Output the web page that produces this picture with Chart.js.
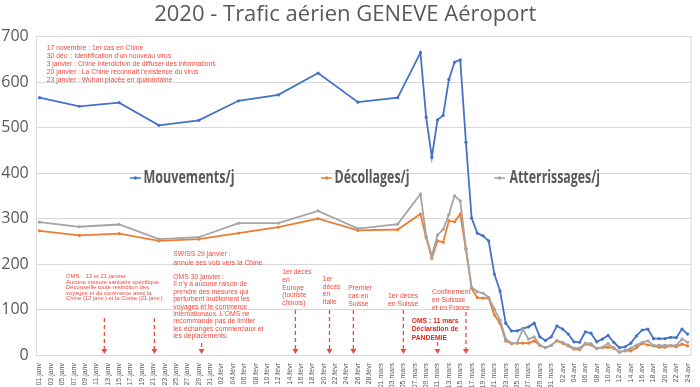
<!DOCTYPE html>
<html>
<head>
<meta charset="utf-8">
<script src="https://cdn.jsdelivr.net/npm/chart.js@4.4.1/dist/chart.umd.min.js"></script>
<style>
  html, body { margin: 0; padding: 0; background: #fff; }
  #wrap { width: 700px; height: 387px; }
</style>
</head>
<body>
<div id="wrap"><canvas id="chart"></canvas></div>
<script>
// one category per day, 01.janv -> 24.avr 2020
const months = [['janv', 31], ['févr', 29], ['mars', 31], ['avr', 24]];
const dayLabels = [];
months.forEach(([m, n]) => {
  for (let d = 1; d <= n; d++) dayLabels.push(String(d).padStart(2, '0') + '.' + m);
});

// weekly values until early March
const weeklyDates = ['01.janv', '08.janv', '15.janv', '22.janv', '29.janv', '05.févr', '12.févr', '19.févr', '26.févr', '04.mars'];
const mouvementsWeekly = [566, 547, 555, 505, 516, 559, 572, 620, 556, 566];
const decollagesWeekly = [273, 263, 267, 251, 255, 268, 281, 300, 274, 276];
const atterrissagesWeekly = [292, 282, 287, 255, 259, 290, 290, 317, 278, 288];

// daily values from 08.mars to 24.avr
const dailyFrom = '08.mars';
const mouvementsDaily = [665, 523, 435, 517, 527, 606, 644, 649, 468, 301, 268, 262, 251, 178, 141, 70,
  53, 53, 58, 62, 70, 40, 32, 40, 64, 57, 46, 29, 28, 51, 48, 29, 35, 43, 28, 16, 18, 26, 42, 55, 57,
  36, 36, 36, 39, 38, 57, 46];
const decollagesDaily = [310, 258, 213, 251, 248, 295, 293, 310, 232, 147, 126, 125, 125, 88, 70, 31,
  25, 26, 26, 26, 31, 21, 16, 21, 31, 26, 20, 13, 12, 24, 22, 14, 16, 17, 16, 6, 10, 9, 16, 26, 22,
  20, 17, 17, 20, 18, 24, 20];
const atterrissagesDaily = [354, 262, 218, 264, 276, 309, 350, 339, 235, 149, 139, 136, 127, 101, 77, 35,
  26, 26, 57, 35, 40, 22, 16, 21, 32, 28, 22, 15, 15, 26, 25, 14, 17, 25, 14, 7, 9, 15, 22, 28, 31,
  21, 21, 21, 21, 21, 35, 28];

function series(weekly, daily) {
  const start = dayLabels.indexOf(dailyFrom);
  return weekly.map((y, i) => ({ x: weeklyDates[i], y }))
    .concat(daily.map((y, i) => ({ x: dayLabels[start + i], y })));
}

const RED = '#ef4a3e';

// event arrows (day index in dayLabels, top of the dashed line in px)
const arrows = [
  { day: 11.4, top: 318 }, { day: 20.2, top: 318 }, { day: 28.5, top: 343 },
  { day: 45, top: 310 }, { day: 51, top: 310 }, { day: 55.2, top: 310 },
  { day: 64, top: 310 }, { day: 70, top: 342 }, { day: 75, top: 312 }
];

// text blocks: x, first line centre y, line step, font size, width of widest line
const notes = [
  { x: 46.7, y: 48.3, step: 8, size: 7.5, width: 169, lines: [
    '17 novembre : 1er cas en Chine',
    '30 déc. : identification d\u2019un nouveau virus',
    '3 janvier : Chine interdiction de diffuser des informations',
    '20 janvier : La Chine reconnaît l\u2019existence du virus',
    '23 janvier : Wuhan placée en quarantaine'] },
  { x: 66, y: 276.7, step: 5.5, size: 6, width: 96.7, lines: [
    'OMS :  12 et 21 janvier',
    'Aucune mesure sanitaire spécifique.',
    'Déconseille toute restriction des',
    'voyages et du commerce avec la',
    'Chine (12 janv.) et la Corée (21 janv.)'] },
  { x: 173.3, y: 254, step: 9, size: 7.5, width: 89, lines: [
    'SWISS 29 janvier :',
    'annule ses vols vers la Chine'] },
  { x: 173.3, y: 277, step: 7.4, size: 7.5, width: 90, lines: [
    'OMS 30 janvier :',
    'Il n\u2019y a aucune raison de',
    'prendre des mesures qui',
    'perturbent inutilement les',
    'voyages et le commerce',
    'internationaux. L\u2019OMS ne',
    'recommande pas de limiter',
    'les échanges commerciaux et',
    'les déplacements.'] },
  { x: 282.3, y: 272.3, step: 7.7, size: 7.5, width: 29.4, lines: ['1er décès', 'en', 'Europe', '(touriste', 'chinois)'] },
  { x: 322.7, y: 279, step: 7.7, size: 7.5, width: 17.7, lines: ['1er', 'décès', 'en', 'Italie'] },
  { x: 348.3, y: 288.3, step: 7.7, size: 7.5, width: 23.7, lines: ['Premier', 'cas en', 'Suisse'] },
  { x: 388, y: 296, step: 7.7, size: 7.5, width: 30.3, lines: ['1er décès', 'en Suisse'] },
  { x: 432, y: 292, step: 8, size: 7.5, width: 38.5, lines: ['Confinement', 'en Suissse', 'et en France'] },
  { x: 411.7, y: 321, step: 8.4, size: 7.5, width: 46.7, bold: true, color: '#e3281e', lines: [
    'OMS : 11 mars', 'Déclaration de', 'PANDEMIE'] }
];

// legend: marker x, text start, text width
const legendSpots = [
  { mx: 130, tx: 143.5, w: 91 },
  { mx: 321, tx: 334.5, w: 75 },
  { mx: 494, tx: 509.5, w: 90.5 }
];
const legendY = 178;

const annotate = {
  id: 'annotate',
  afterDraw(chart) {
    const { ctx, chartArea, scales } = chart;
    ctx.save();

    // right edge of plot area
    ctx.strokeStyle = '#d9d9d9';
    ctx.lineWidth = 1;
    ctx.beginPath();
    ctx.moveTo(chartArea.right + 0.5, chartArea.top);
    ctx.lineTo(chartArea.right + 0.5, chartArea.bottom);
    ctx.stroke();

    // legend inside the plot
    chart.data.datasets.forEach((ds, i) => {
      const s = legendSpots[i];
      ctx.strokeStyle = ds.borderColor;
      ctx.lineWidth = 1.5;
      ctx.beginPath();
      ctx.moveTo(s.mx, legendY);
      ctx.lineTo(s.mx + 11, legendY);
      ctx.stroke();
      ctx.fillStyle = ds.borderColor;
      ctx.beginPath();
      ctx.arc(s.mx + 5.5, legendY, 1.8, 0, Math.PI * 2);
      ctx.fill();
      ctx.font = 'bold 17px "Open Sans"';
      ctx.fillStyle = '#595959';
      ctx.textBaseline = 'middle';
      const mw = ctx.measureText(ds.label).width;
      ctx.save();
      ctx.translate(s.tx, legendY);
      ctx.scale(s.w / mw, 1);
      ctx.fillText(ds.label, 0, 0);
      ctx.restore();
    });

    // text notes
    notes.forEach(n => {
      ctx.font = (n.bold ? 'bold ' : '') + n.size + 'px "Liberation Sans"';
      ctx.fillStyle = n.color || RED;
      ctx.textBaseline = 'middle';
      const widest = Math.max(...n.lines.map(l => ctx.measureText(l).width));
      const sx = n.width / widest;
      n.lines.forEach((l, k) => {
        ctx.save();
        ctx.translate(n.x, n.y + k * n.step);
        ctx.scale(sx, 1);
        ctx.fillText(l, 0, 0);
        ctx.restore();
      });
    });

    // dashed arrows pointing at the dates
    ctx.strokeStyle = RED;
    ctx.fillStyle = RED;
    arrows.forEach(a => {
      const x = scales.x.getPixelForValue(a.day);
      const tip = chartArea.bottom - 1;
      ctx.lineWidth = 1.3;
      ctx.setLineDash([4, 3]);
      ctx.beginPath();
      ctx.moveTo(x, a.top);
      ctx.lineTo(x, tip - 4);
      ctx.stroke();
      ctx.setLineDash([]);
      ctx.beginPath();
      ctx.moveTo(x - 3, tip - 5);
      ctx.lineTo(x + 3, tip - 5);
      ctx.lineTo(x, tip);
      ctx.closePath();
      ctx.fill();
    });

    ctx.restore();
  }
};

const lineStyle = { borderWidth: 1.8, pointRadius: 1.6, pointBorderWidth: 0, tension: 0, fill: false };

new Chart(document.getElementById('chart'), {
  type: 'line',
  data: {
    labels: dayLabels,
    datasets: [
      { label: 'Mouvements/j', data: series(mouvementsWeekly, mouvementsDaily),
        borderColor: '#4472c4', pointBackgroundColor: '#4472c4', order: 3, ...lineStyle },
      { label: 'Décollages/j', data: series(decollagesWeekly, decollagesDaily),
        borderColor: '#ed7d31', pointBackgroundColor: '#ed7d31', order: 2, ...lineStyle },
      { label: 'Atterrissages/j', data: series(atterrissagesWeekly, atterrissagesDaily),
        borderColor: '#a5a5a5', pointBackgroundColor: '#a5a5a5', order: 1, ...lineStyle }
    ]
  },
  options: {
    responsive: true,
    maintainAspectRatio: false,
    animation: false,
    layout: { padding: { left: 0, right: 9.5, top: 0, bottom: 0 } },
    plugins: {
      legend: { display: false },
      tooltip: { enabled: false },
      title: {
        display: true,
        text: '2020 - Trafic aérien GENEVE Aéroport',
        color: '#595959',
        font: { family: '"Open Sans"', size: 22, weight: 'normal' },
        padding: { top: 2, bottom: 8.3 }
      }
    },
    scales: {
      x: {
        type: 'category',
        offset: true,
        grid: { display: false },
        border: { color: '#d9d9d9' },
        ticks: {
          autoSkip: false,
          maxRotation: 90,
          minRotation: 90,
          padding: 0,
          color: '#595959',
          font: { family: '"Liberation Sans"', size: 7 },
          callback: (v, i) => (i % 2 === 0 ? dayLabels[i] : '')
        },
        afterFit: s => { s.height = 32; }
      },
      y: {
        min: 0,
        max: 700,
        grid: { color: '#d9d9d9', drawTicks: false },
        border: { color: '#d9d9d9' },
        ticks: {
          stepSize: 100,
          padding: 8,
          color: '#595959',
          font: { family: '"Open Sans"', size: 16 }
        },
        afterFit: s => { s.height = undefined; s.width = 36.7; }
      }
    }
  },
  plugins: [annotate]
});
</script>
</body>
</html>
